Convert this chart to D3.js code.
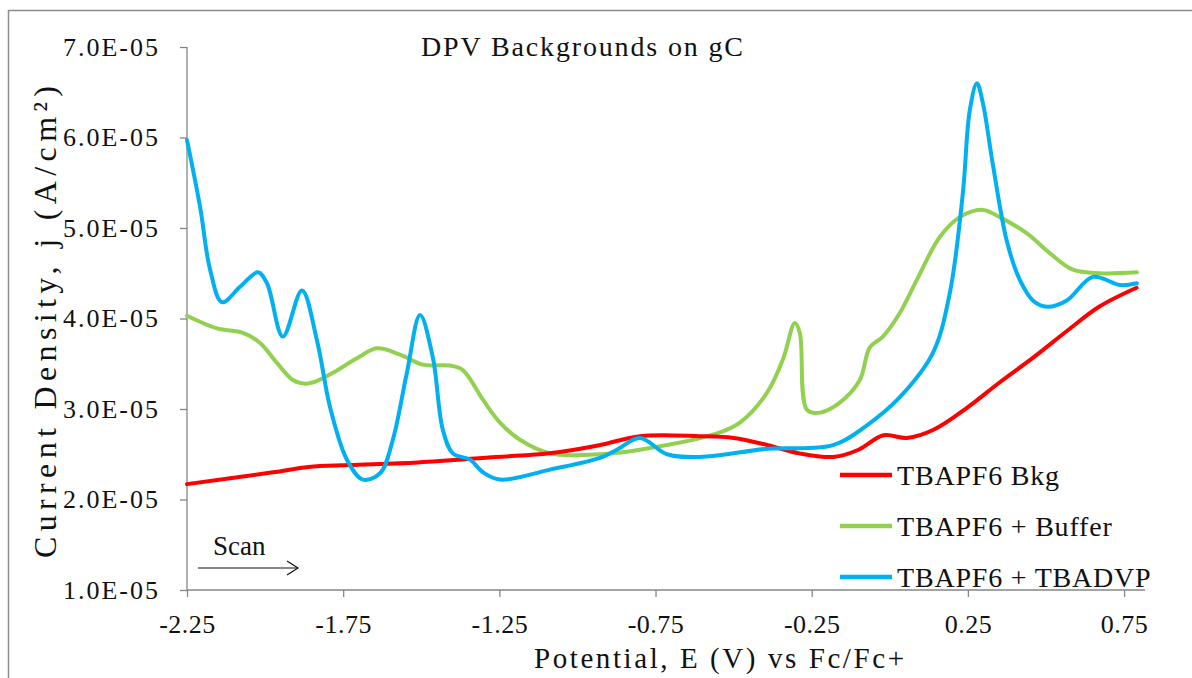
<!DOCTYPE html>
<html>
<head>
<meta charset="utf-8">
<script src="https://cdn.jsdelivr.net/npm/d3@7"></script>
<style>
  body { margin: 0; background: #fff; }
  svg, svg text { font-family: "Liberation Serif", "Times New Roman", "DejaVu Serif", serif !important; }
  text { fill: #111; }
</style>
</head>
<body>
<script>
// series: [potential (V vs Fc/Fc+), current density in units of 1E-05 A/cm2]
var bkg = [[-2.25, 2.17], [-1.975, 2.30], [-1.86, 2.36], [-1.73, 2.38], [-1.51, 2.41],
  [-1.26, 2.47], [-1.09, 2.51], [-0.93, 2.60], [-0.80, 2.70], [-0.61, 2.70], [-0.50, 2.68],
  [-0.39, 2.60], [-0.29, 2.51], [-0.18, 2.47], [-0.10, 2.55], [-0.02, 2.71], [0.055, 2.68],
  [0.14, 2.77], [0.25, 3.02], [0.35, 3.29], [0.46, 3.57], [0.57, 3.87], [0.67, 4.13], [0.79, 4.34]];

var buffer = [[-2.25, 4.03], [-2.154, 3.89], [-2.071, 3.84], [-2.016, 3.73], [-1.962, 3.51],
  [-1.911, 3.32], [-1.87, 3.28], [-1.834, 3.31], [-1.783, 3.40], [-1.706, 3.56], [-1.642, 3.67], [-1.568, 3.60],
  [-1.495, 3.49], [-1.408, 3.48], [-1.367, 3.43], [-1.302, 3.10], [-1.248, 2.85], [-1.184, 2.66],
  [-1.088, 2.51], [-0.928, 2.50], [-0.800, 2.55], [-0.553, 2.73], [-0.480, 2.85], [-0.393, 3.18],
  [-0.342, 3.55], [-0.304, 3.95], [-0.288, 3.84], [-0.265, 2.99], [-0.224, 2.96], [-0.160, 3.07],
  [-0.096, 3.32], [-0.064, 3.68], [-0.022, 3.80], [0.032, 4.06], [0.087, 4.43], [0.160, 4.90],
  [0.224, 5.12], [0.298, 5.20], [0.352, 5.12], [0.439, 4.94], [0.513, 4.72], [0.586, 4.54],
  [0.673, 4.50], [0.791, 4.51]];

var dvp = [[-2.25, 5.97], [-2.208, 5.23], [-2.176, 4.54], [-2.138, 4.18], [-2.080, 4.35],
  [-2.023, 4.51], [-1.994, 4.39], [-1.943, 3.80], [-1.882, 4.31], [-1.834, 3.76], [-1.792, 3.02],
  [-1.738, 2.44], [-1.687, 2.22], [-1.632, 2.29], [-1.591, 2.66], [-1.546, 3.40], [-1.504, 4.04],
  [-1.463, 3.57], [-1.431, 2.77], [-1.399, 2.51], [-1.344, 2.44], [-1.302, 2.30], [-1.248, 2.22],
  [-1.088, 2.33], [-0.928, 2.46], [-0.874, 2.55], [-0.800, 2.68], [-0.713, 2.50], [-0.608, 2.47],
  [-0.393, 2.56], [-0.182, 2.60], [-0.073, 2.82], [0.032, 3.13], [0.138, 3.62], [0.192, 4.28],
  [0.234, 5.39], [0.256, 6.30], [0.279, 6.60], [0.298, 6.38], [0.330, 5.70], [0.375, 4.85],
  [0.417, 4.42], [0.458, 4.20], [0.503, 4.13], [0.567, 4.20], [0.650, 4.46], [0.737, 4.37],
  [0.791, 4.39]];

var seriesNames = ['TBAPF6 Bkg', 'TBAPF6 + Buffer', 'TBAPF6 + TBADVP'];
var seriesColors = ['#ff0000', '#92d050', '#00b0f0'];
var xTicks = [-2.25, -1.75, -1.25, -0.75, -0.25, 0.25, 0.75];
var yTicks = [1, 2, 3, 4, 5, 6, 7];

var FONT = '"Liberation Serif", "Times New Roman", "DejaVu Serif", serif';
var W = 1192, H = 678;
var margin = { top: 47, left: 187, right: 47, bottom: 88 },
    width = W - margin.left - margin.right,
    height = H - margin.top - margin.bottom;

var x = d3.scaleLinear().domain([-2.25, 0.817]).range([0, width]);
var y = d3.scaleLinear().domain([1, 7]).range([height, 0]);

var svg = d3.select('body').append('svg')
    .attr('width', W)
    .attr('height', H)
    .attr('font-family', FONT);

// outer chart border
svg.append('rect')
    .attr('x', 8.5).attr('y', 10.5)
    .attr('width', 1300).attr('height', 800)
    .attr('fill', 'none').attr('stroke', '#8c8c8c').attr('stroke-width', 1.5);

var g = svg.append('g')
    .attr('transform', 'translate(' + margin.left + ',' + margin.top + ')');

// axes
var yAxis = g.append('g')
    .call(d3.axisLeft(y).tickValues(yTicks).tickSize(7).tickPadding(20)
      .tickFormat(function (d) { return d.toFixed(1) + 'E-05'; }));
var xAxis = g.append('g')
    .attr('transform', 'translate(0,' + height + ')')
    .call(d3.axisBottom(x).tickValues(xTicks).tickSize(7).tickPadding(18)
      .tickFormat(function (d) { return d.toFixed(2); }));

[yAxis, xAxis].forEach(function (a) {
  a.attr('font-family', FONT).attr('font-size', 26);
  a.select('.domain').attr('stroke', '#868686').attr('stroke-width', 1.3);
  a.selectAll('.tick line').attr('stroke', '#868686').attr('stroke-width', 1.3);
  a.selectAll('.tick text').attr('fill', '#111');
});
yAxis.selectAll('.tick text').style('letter-spacing', '2px');
xAxis.selectAll('.tick text').style('letter-spacing', '0.5px');
yAxis.select('.domain').attr('d', 'M0,' + height + 'V0');
xAxis.select('.domain').attr('d', 'M0,0H' + width);

// lines
var line = d3.line()
    .x(function (d) { return x(d[0]); })
    .y(function (d) { return y(d[1]); })
    .curve(d3.curveCatmullRom.alpha(0.5));

var allSeries = [bkg, buffer, dvp];
// draw order: buffer, bkg, dvp on top
[1, 0, 2].forEach(function (i) {
  g.append('path')
    .datum(allSeries[i])
    .attr('fill', 'none')
    .attr('stroke', seriesColors[i])
    .attr('stroke-width', 4)
    .attr('stroke-linejoin', 'round')
    .attr('stroke-linecap', 'round')
    .attr('d', line);
});

// title
svg.append('text')
    .attr('x', 582).attr('y', 56)
    .attr('text-anchor', 'middle')
    .attr('font-size', 28)
    .attr('textLength', 322)
    .attr('lengthAdjust', 'spacing')
    .text('DPV Backgrounds  on gC');

// axis titles
svg.append('text')
    .attr('x', 719).attr('y', 668)
    .attr('text-anchor', 'middle')
    .attr('font-size', 29)
    .attr('textLength', 370)
    .attr('lengthAdjust', 'spacing')
    .text('Potential,  E  (V)  vs  Fc/Fc+');

svg.append('text')
    .attr('transform', 'translate(56,322) rotate(-90)')
    .attr('text-anchor', 'middle')
    .attr('font-size', 32)
    .attr('textLength', 472)
    .attr('lengthAdjust', 'spacing')
    .text('Current  Density,  j  (A/cm²)');

// scan arrow
svg.append('text')
    .attr('x', 213).attr('y', 555)
    .attr('font-size', 27)
    .text('Scan');
svg.append('line')
    .attr('x1', 198).attr('x2', 298).attr('y1', 568).attr('y2', 568)
    .attr('stroke', '#111').attr('stroke-width', 1.2);
svg.append('path')
    .attr('d', 'M287,561L298,568L287,575')
    .attr('fill', 'none').attr('stroke', '#111').attr('stroke-width', 1.2);

// legend
var legend = svg.append('g').attr('transform', 'translate(840,475)');
seriesNames.forEach(function (name, i) {
  var row = legend.append('g').attr('transform', 'translate(0,' + (i * 51) + ')');
  row.append('line')
    .attr('x1', 0).attr('x2', 52).attr('y1', 0).attr('y2', 0)
    .attr('stroke', seriesColors[i]).attr('stroke-width', 4.5);
  row.append('text')
    .attr('x', 57).attr('y', 10)
    .attr('font-size', 28)
    .style('letter-spacing', '0.8px')
    .text(name);
});
</script>
</body>
</html>
